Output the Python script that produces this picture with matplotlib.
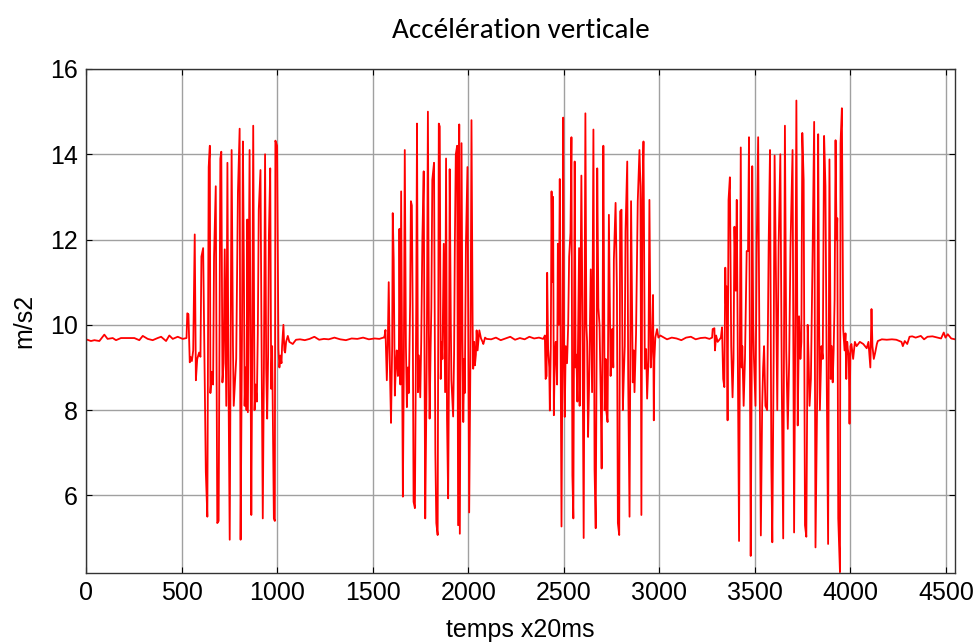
import numpy as np
import matplotlib
matplotlib.use("Agg")
import matplotlib.pyplot as plt

# calm segments (sensor at rest ~9.7 m/s2)
x_calm1 = [0, 26, 44, 70, 96, 113, 140, 157, 183, 218, 253, 279, 297, 323, 349, 375, 393, 419, 436, 454, 480, 506, 526]
y_calm1 = [9.66, 9.62, 9.64, 9.62, 9.77, 9.67, 9.69, 9.64, 9.69, 9.69, 9.69, 9.64, 9.74, 9.67, 9.64, 9.69, 9.72, 9.62, 9.75, 9.67, 9.72, 9.67, 9.69]

# burst 1
x_b1 = [530, 536, 543, 547, 554, 561, 569, 575, 582, 592, 599, 604, 613, 622, 627, 635, 642, 648, 651, 658,
        665, 670, 679, 687, 694, 703, 708, 714, 720, 726, 734, 740, 745, 752, 762, 769, 773, 780, 786, 795,
        804, 809, 816, 821, 826, 830, 835, 840, 844, 847, 856, 865, 870, 875, 882, 887, 894, 899, 904, 913,
        918, 925, 931, 937, 943, 948, 953, 957, 964, 969, 974, 983, 988, 991, 1000, 1007, 1012, 1017, 1023, 1026,
        1033, 1038, 1042, 1047, 1056, 1064, 1082, 1090, 1099]
y_b1 = [10.27, 10.25, 9.12, 9.25, 9.15, 9.4, 12.12, 8.7, 9.2, 9.35, 9.25, 11.6, 11.8, 8.5, 6.55, 5.5, 13.7, 14.2, 8.4, 8.9,
        8.6, 11.6, 13.25, 5.35, 5.4, 13.9, 14.06, 8.65, 9.1, 11.77, 8.1, 13.8, 9.0, 4.96, 14.1, 9.5, 8.1, 8.7, 9.2, 13.1,
        14.6, 4.96, 9.6, 14.3, 11.5, 8.1, 9.0, 8.0, 12.47, 7.95, 14.1, 5.54, 9.5, 14.67, 8.0, 8.6, 8.2, 9.8, 12.7, 13.63,
        10.0, 5.46, 9.0, 14.0, 8.97, 7.8, 9.3, 12.08, 13.67, 8.5, 9.5, 5.46, 5.4, 14.32, 14.2, 9.43, 9.0, 9.28, 9.1, 9.5,
        10.0, 9.4, 9.35, 9.6, 9.74, 9.6, 9.55, 9.6, 9.65]

x_calm2 = [1120, 1145, 1170, 1195, 1220, 1245, 1270, 1300, 1330, 1360, 1390, 1420, 1450, 1480, 1510, 1535, 1556]
y_calm2 = [9.66, 9.64, 9.67, 9.72, 9.65, 9.67, 9.66, 9.7, 9.66, 9.64, 9.68, 9.67, 9.7, 9.66, 9.68, 9.67, 9.7]

# burst 2
x_b2 = [1561, 1567, 1574, 1579, 1584, 1591, 1596, 1602, 1605, 1610, 1616, 1621, 1626, 1632, 1637, 1640, 1645, 1649, 1658, 1663,
        1668, 1674, 1679, 1684, 1689, 1696, 1700, 1705, 1710, 1714, 1721, 1728, 1732, 1737, 1742, 1749, 1754, 1760, 1767, 1775,
        1781, 1784, 1789, 1795, 1798, 1803, 1807, 1812, 1817, 1821, 1828, 1833, 1840, 1846, 1851, 1856, 1861, 1865, 1872, 1879,
        1884, 1889, 1895, 1900, 1903, 1909, 1912, 1921, 1926, 1930, 1935, 1942, 1947, 1953, 1956, 1961, 1965, 1970, 1974, 1979,
        1982, 1988, 1996, 2005, 2012, 2017, 2023, 2026, 2031, 2035, 2040, 2044, 2049, 2058, 2067, 2075, 2079, 2088, 2096]
y_b2 = [9.7, 9.88, 8.7, 9.5, 11.0, 8.77, 7.7, 9.5, 12.62, 11.53, 8.34, 9.0, 9.4, 8.8, 9.2, 12.25, 8.6, 13.13, 5.97, 9.0,
        14.1, 9.5, 8.07, 9.0, 8.4, 10.5, 12.9, 12.8, 10.0, 5.85, 5.7, 10.5, 14.72, 8.42, 9.28, 8.3, 9.6, 12.0, 13.6, 5.46,
        8.2, 10.0, 15.0, 9.0, 7.8, 9.4, 10.4, 13.4, 13.63, 13.8, 7.0, 5.35, 5.07, 14.72, 14.65, 8.73, 9.6, 9.2, 11.9, 8.42,
        13.9, 7.8, 5.93, 9.5, 13.65, 10.0, 8.7, 7.85, 9.3, 11.9, 14.0, 14.2, 5.3, 14.7, 5.1, 10.5, 14.26, 9.6, 7.72, 9.2,
        8.4, 11.9, 13.7, 5.6, 9.5, 14.8, 10.0, 8.97, 9.6, 9.05, 9.3, 9.87, 9.4, 9.87, 9.68, 9.6, 9.55, 9.7, 9.67]

x_calm3 = [2120, 2145, 2170, 2195, 2220, 2245, 2270, 2295, 2320, 2345, 2370, 2392]
y_calm3 = [9.66, 9.7, 9.64, 9.68, 9.72, 9.65, 9.69, 9.66, 9.72, 9.68, 9.7, 9.67]

# burst 3
x_b3 = [2396, 2401, 2405, 2410, 2413, 2418, 2424, 2427, 2432, 2436, 2441, 2444, 2448, 2453, 2458, 2465, 2469, 2474, 2479, 2488,
        2493, 2497, 2502, 2505, 2510, 2517, 2523, 2528, 2535, 2540, 2545, 2550, 2557, 2562, 2566, 2571, 2580, 2583, 2592, 2597,
        2604, 2613, 2618, 2622, 2627, 2632, 2635, 2641, 2648, 2655, 2661, 2667, 2672, 2675, 2681, 2687, 2693, 2698, 2703, 2707,
        2714, 2719, 2722, 2729, 2736, 2745, 2750, 2753, 2759, 2762, 2771, 2778, 2783, 2790, 2795, 2802, 2809, 2814, 2819, 2823,
        2832, 2837, 2844, 2852, 2858, 2861, 2866, 2870, 2878, 2887, 2896, 2901, 2906, 2911, 2917, 2924, 2931, 2936, 2943, 2948,
        2955, 2962, 2967, 2971, 2974, 2979, 2988, 2995, 3005, 3017]
y_b3 = [9.7, 9.75, 8.73, 8.8, 11.22, 9.43, 9.0, 7.99, 9.5, 13.13, 11.0, 13.0, 7.88, 9.3, 9.6, 8.6, 11.9, 10.0, 13.42, 5.27,
        9.4, 14.86, 9.0, 7.84, 9.5, 9.1, 10.0, 11.6, 12.16, 14.4, 6.47, 5.46, 13.83, 9.0, 9.3, 8.2, 11.8, 8.1, 13.5, 10.6,
        5.0, 14.96, 10.0, 9.6, 7.37, 8.5, 9.43, 11.3, 8.42, 14.58, 6.6, 5.23, 9.5, 13.67, 10.4, 10.0, 8.42, 6.63, 10.0, 14.2,
        8.0, 9.2, 8.0, 7.72, 12.58, 8.8, 9.6, 9.9, 9.0, 11.53, 12.86, 10.8, 5.35, 5.07, 12.66, 12.7, 8.0, 8.8, 9.5, 12.2,
        13.83, 8.73, 5.5, 12.9, 10.0, 8.65, 9.4, 8.42, 9.78, 12.9, 14.1, 13.25, 5.54, 12.93, 14.3, 8.97, 9.43, 8.27, 9.2, 12.93,
        9.0, 9.6, 10.7, 7.76, 9.2, 9.7, 9.9, 9.7, 9.75, 9.72]

x_calm4 = [3040, 3065, 3090, 3115, 3140, 3165, 3190, 3215, 3240, 3262, 3276]
y_calm4 = [9.66, 9.7, 9.68, 9.64, 9.7, 9.72, 9.66, 9.69, 9.7, 9.67, 9.7]

# burst 4
x_b4 = [3279, 3288, 3291, 3297, 3305, 3314, 3322, 3328, 3334, 3340, 3345, 3348, 3352, 3357, 3362, 3369, 3376, 3383, 3388, 3393,
        3400, 3405, 3412, 3417, 3426, 3431, 3434, 3441, 3448, 3457, 3464, 3469, 3478, 3483, 3486, 3491, 3495, 3503, 3510, 3517,
        3524, 3531, 3538, 3543, 3548, 3555, 3564, 3572, 3579, 3586, 3591, 3598, 3603, 3610, 3617, 3624, 3633, 3641, 3648, 3657,
        3664, 3672, 3679, 3686, 3697, 3705, 3712, 3717, 3724, 3731, 3738, 3743, 3748, 3755, 3762, 3769, 3776, 3781, 3786, 3793,
        3802, 3810, 3817, 3826, 3831, 3836, 3840, 3848, 3855, 3862, 3869, 3876, 3883, 3890, 3897, 3902, 3907, 3912, 3917, 3922,
        3927, 3931, 3936, 3941, 3945, 3948, 3955, 3962, 3969, 3974, 3978, 3983, 3986, 3991, 3995, 4000]
y_b4 = [9.9, 9.92, 9.4, 9.75, 9.6, 9.65, 9.7, 9.94, 8.73, 8.54, 11.34, 10.5, 10.9, 7.76, 12.93, 13.46, 9.5, 8.3, 9.2, 12.3,
        10.8, 12.93, 8.42, 4.93, 14.16, 9.0, 9.5, 8.1, 9.2, 11.73, 11.73, 14.4, 4.58, 8.7, 13.72, 10.0, 9.2, 8.1, 12.05, 14.4,
        9.2, 5.06, 8.1, 9.0, 9.5, 8.1, 8.0, 11.9, 14.1, 6.7, 4.9, 9.2, 13.97, 11.2, 8.0, 11.84, 14.0, 8.4, 4.99, 14.67,
        9.4, 7.56, 9.1, 11.8, 14.1, 5.13, 10.4, 15.26, 7.64, 10.2, 9.2, 9.6, 14.5, 13.4, 5.3, 5.03, 10.0, 9.2, 8.1, 8.73,
        11.73, 14.76, 4.78, 8.42, 14.47, 10.0, 8.0, 9.5, 9.2, 14.43, 13.25, 8.6, 4.86, 13.88, 8.73, 9.5, 8.65, 9.4, 10.6, 14.33,
        12.0, 12.5, 5.46, 4.8, 4.2, 14.26, 15.08, 9.9, 9.4, 9.8, 8.73, 9.6, 9.43, 9.3, 7.68, 9.5]

x_tail = [4005, 4014, 4023, 4032, 4049, 4067, 4085, 4094, 4104, 4110, 4115, 4122, 4129, 4138, 4143, 4164, 4190, 4217, 4240, 4267,
          4274, 4284, 4297, 4309, 4323, 4341, 4368, 4385, 4403, 4429, 4456, 4474, 4488, 4497, 4509, 4527, 4547]
y_tail = [9.55, 9.2, 9.6, 9.5, 9.6, 9.55, 9.45, 9.6, 9.0, 10.37, 9.5, 9.2, 9.34, 9.55, 9.62, 9.66, 9.65, 9.66, 9.65, 9.6,
          9.5, 9.62, 9.55, 9.72, 9.73, 9.7, 9.74, 9.66, 9.72, 9.73, 9.7, 9.68, 9.82, 9.7, 9.78, 9.68, 9.66]

t = np.concatenate([x_calm1, x_b1, x_calm2, x_b2, x_calm3, x_b3, x_calm4, x_b4, x_tail])
acc = np.concatenate([y_calm1, y_b1, y_calm2, y_b2, y_calm3, y_b3, y_calm4, y_b4, y_tail])

fig = plt.figure(figsize=(9.76, 6.43), dpi=100)
ax = fig.add_axes([0.0881, 0.1089, 0.8904, 0.7838])

ax.plot(t, acc, color='red', linewidth=1.3)

ax.set_xlim(0, 4547)
ax.set_ylim(4.18, 16)
ax.set_xticks(np.arange(0, 4501, 500))
ax.set_yticks([6, 8, 10, 12, 14, 16])
ax.grid(True, color='#a0a0a0', linewidth=1.0, linestyle='-')
ax.set_axisbelow(True)

tickfont = ['Liberation Sans', 'DejaVu Sans']
ax.tick_params(direction='in', length=4, width=0.8, top=True, right=True, labelsize=18, pad=6)
for lab in ax.get_xticklabels() + ax.get_yticklabels():
    lab.set_family(tickfont)
for s in ax.spines.values():
    s.set_linewidth(1.0)
    s.set_color('#333333')

ax.set_title('Accélération verticale', family=['Carlito', 'Lato', 'DejaVu Sans'], fontsize=21, pad=22)
ax.set_xlabel('temps x20ms', family=tickfont, fontsize=18, labelpad=9)
ax.set_ylabel('m/s2', family=tickfont, fontsize=18, labelpad=10)

fig.savefig('out.png', dpi=100)
